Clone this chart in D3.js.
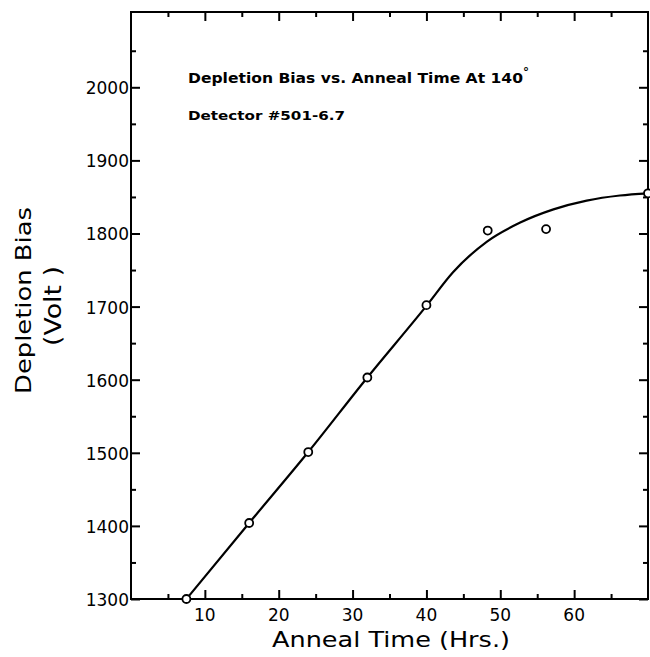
<!DOCTYPE html>
<html>
<head>
<meta charset="utf-8">
<script src="https://cdn.jsdelivr.net/npm/d3@7"></script>
<style>
  body { margin: 0; background: #fff; }
  text { font-family: "DejaVu Sans", "Liberation Sans", sans-serif; fill: #000; }
</style>
</head>
<body>
<div class="graph"></div>
<script>
// measured points
const annealHours = [7.5, 16, 24, 32, 40, 48.3, 56.2, 70];
const depletionVolts = [1300, 1404, 1501, 1603, 1702, 1804, 1806, 1855];

// hand-drawn fit curve
const curveHours = [7.5, 16, 24, 32, 40, 43.6, 48.2, 52.7, 57.2, 61.7, 66.2, 70];
const curveVolts = [1300, 1404, 1501, 1603, 1701, 1747, 1789, 1815, 1833, 1845, 1852, 1855];

const xTickLabels = [10, 20, 30, 40, 50, 60];
const yTickLabels = [1300, 1400, 1500, 1600, 1700, 1800, 1900, 2000];

const width = 650, height = 657;
const plotLeft = 131, plotRight = 648, plotTop = 12, plotBottom = 599;

let svg = d3.select(".graph")
  .append("svg")
  .attr("width", width)
  .attr("height", height);

let x = d3.scaleLinear().domain([0, 70]).range([plotLeft, plotRight]);
let y = d3.scaleLinear().domain([1300, 2103]).range([plotBottom, plotTop]);

// frame
svg.append("rect")
  .attr("x", plotLeft).attr("y", plotTop)
  .attr("width", plotRight - plotLeft).attr("height", plotBottom - plotTop)
  .attr("fill", "none").attr("stroke", "#000").attr("stroke-width", 2);

let xMinor = d3.range(5, 70, 10);
let yMinor = d3.range(1350, 2100, 100);

function tickSet(axis, vals, size) {
  return axis.tickValues(vals).tickSize(size).tickFormat("");
}

// inward ticks on all four sides
let drawTicks = function(g) {
  g.select(".domain").remove();
  g.selectAll("line").attr("stroke", "#000").attr("stroke-width", 2);
};

svg.append("g").attr("transform", "translate(0," + plotBottom + ")")
  .call(tickSet(d3.axisTop(x), xMinor, 5)).call(drawTicks);
svg.append("g").attr("transform", "translate(0," + plotBottom + ")")
  .call(tickSet(d3.axisTop(x), xTickLabels, 9)).call(drawTicks);
svg.append("g").attr("transform", "translate(0," + plotTop + ")")
  .call(tickSet(d3.axisBottom(x), xMinor, 5)).call(drawTicks);
svg.append("g").attr("transform", "translate(0," + plotTop + ")")
  .call(tickSet(d3.axisBottom(x), xTickLabels, 9)).call(drawTicks);

svg.append("g").attr("transform", "translate(" + plotLeft + ",0)")
  .call(tickSet(d3.axisRight(y), yMinor, 5)).call(drawTicks);
svg.append("g").attr("transform", "translate(" + plotLeft + ",0)")
  .call(tickSet(d3.axisRight(y), yTickLabels, 9)).call(drawTicks);
svg.append("g").attr("transform", "translate(" + plotRight + ",0)")
  .call(tickSet(d3.axisLeft(y), yMinor, 5)).call(drawTicks);
svg.append("g").attr("transform", "translate(" + plotRight + ",0)")
  .call(tickSet(d3.axisLeft(y), yTickLabels, 9)).call(drawTicks);

// tick labels
svg.selectAll(".xlab")
  .data(xTickLabels)
  .enter().append("text")
  .attr("x", d => x(d))
  .attr("y", 621)
  .attr("text-anchor", "middle")
  .attr("font-size", 17)
  .text(d => d);

svg.selectAll(".ylab")
  .data(yTickLabels)
  .enter().append("text")
  .attr("x", plotLeft - 2)
  .attr("y", d => y(d) + 7)
  .attr("text-anchor", "end")
  .attr("font-size", 17)
  .text(d => d);

// axis titles
svg.append("text")
  .attr("x", 272).attr("y", 647)
  .attr("font-size", 22)
  .attr("textLength", 238)
  .attr("lengthAdjust", "spacingAndGlyphs")
  .text("Anneal Time (Hrs.)");

svg.append("text")
  .attr("transform", "translate(31,394) rotate(-90)")
  .attr("font-size", 22)
  .attr("textLength", 187)
  .attr("lengthAdjust", "spacingAndGlyphs")
  .text("Depletion Bias");

svg.append("text")
  .attr("transform", "translate(61,346) rotate(-90)")
  .attr("font-size", 23)
  .attr("textLength", 80)
  .attr("lengthAdjust", "spacingAndGlyphs")
  .text("(Volt )");

// annotations
svg.append("text")
  .attr("x", 188).attr("y", 83)
  .attr("font-size", 14)
  .attr("font-weight", "bold")
  .attr("textLength", 335)
  .attr("lengthAdjust", "spacingAndGlyphs")
  .text("Depletion Bias vs. Anneal Time At 140");
svg.append("text")
  .attr("x", 523).attr("y", 76)
  .attr("font-size", 12)
  .attr("font-weight", "bold")
  .text("°");

svg.append("text")
  .attr("x", 188).attr("y", 120)
  .attr("font-size", 13)
  .attr("font-weight", "bold")
  .attr("textLength", 157)
  .attr("lengthAdjust", "spacingAndGlyphs")
  .text("Detector #501-6.7");

// curve
let curve = curveHours.map((h, i) => [h, curveVolts[i]]);
let line = d3.line()
  .x(d => x(d[0]))
  .y(d => y(d[1]))
  .curve(d3.curveMonotoneX);

svg.append("path")
  .datum(curve)
  .attr("d", line)
  .attr("fill", "none")
  .attr("stroke", "#000")
  .attr("stroke-width", 2.2);

// points
svg.selectAll(".pt")
  .data(annealHours)
  .enter().append("circle")
  .attr("cx", d => x(d))
  .attr("cy", (d, i) => y(depletionVolts[i]))
  .attr("r", 4)
  .attr("fill", "#fff")
  .attr("stroke", "#000")
  .attr("stroke-width", 1.8);
</script>
</body>
</html>
